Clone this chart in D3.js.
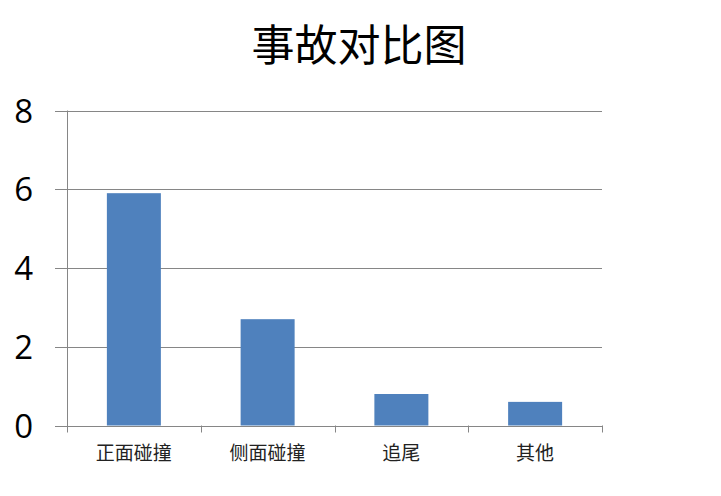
<!DOCTYPE html>
<html>
<head>
<meta charset="utf-8">
<script src="https://cdn.jsdelivr.net/npm/d3@7"></script>
<style>
  body { margin: 0; background: #fff; }
</style>
</head>
<body>
<div id="chart"></div>
<script>
var categories = ["正面碰撞", "侧面碰撞", "追尾", "其他"];
var values = [5.9, 2.7, 0.8, 0.6];
var yTicks = [0, 2, 4, 6, 8];
var title = "事故对比图";

var width = 721, height = 496;
var plotLeft = 67, plotRight = 602, plotTop = 110.5, plotBottom = 425.5;

var svg = d3.select("#chart").append("svg").attr("width", width).attr("height", height);

var xband = d3.scaleBand().domain(categories).range([plotLeft, plotRight]);
var yscale = d3.scaleLinear().domain([0, 8]).range([plotBottom, plotTop]);

// gridlines
svg.append("g").selectAll("line").data(yTicks).enter().append("line")
  .attr("x1", plotLeft - 12).attr("x2", plotRight)
  .attr("y1", function(d) { return Math.round(yscale(d)) + 0.5; })
  .attr("y2", function(d) { return Math.round(yscale(d)) + 0.5; })
  .attr("stroke", "#868686").attr("stroke-width", 1);

// y axis line
svg.append("line").attr("x1", plotLeft + 0.5).attr("x2", plotLeft + 0.5)
  .attr("y1", plotTop).attr("y2", plotBottom + 7)
  .attr("stroke", "#868686");

// x tick marks at category boundaries
var bounds = categories.map(function(c) { return xband(c) + xband.bandwidth(); });
svg.append("g").selectAll("line").data(bounds).enter().append("line")
  .attr("x1", function(d) { return Math.round(d) + 0.5; })
  .attr("x2", function(d) { return Math.round(d) + 0.5; })
  .attr("y1", plotBottom).attr("y2", plotBottom + 7)
  .attr("stroke", "#868686");

// y labels
svg.append("g").selectAll("text").data(yTicks).enter().append("text")
  .attr("x", 33).attr("y", function(d) { return yscale(d) + 12; })
  .attr("text-anchor", "end")
  .attr("font-family", "'Open Sans', 'Liberation Sans', sans-serif")
  .attr("font-size", 33).attr("fill", "#000")
  .text(function(d) { return d; });

// bars
svg.append("g").selectAll("rect").data(values).enter().append("rect")
  .attr("x", function(d, i) { return xband(categories[i]) + xband.bandwidth() / 2 - 27; })
  .attr("width", 54)
  .attr("y", function(d) { return yscale(d); })
  .attr("height", function(d) { return plotBottom - yscale(d); })
  .attr("fill", "#4F81BD");

// category labels
svg.append("g").selectAll("text").data(categories).enter().append("text")
  .attr("x", function(d) { return xband(d) + xband.bandwidth() / 2; })
  .attr("y", 460)
  .attr("text-anchor", "middle")
  .attr("font-family", "'Noto Sans CJK SC', sans-serif")
  .attr("font-size", 19).attr("fill", "#222")
  .text(function(d) { return d; });

// title
svg.append("text").attr("x", 359).attr("y", 61)
  .attr("text-anchor", "middle")
  .attr("font-family", "'Noto Sans CJK SC', sans-serif")
  .attr("font-size", 43).attr("fill", "#000")
  .text(title);
</script>
</body>
</html>
